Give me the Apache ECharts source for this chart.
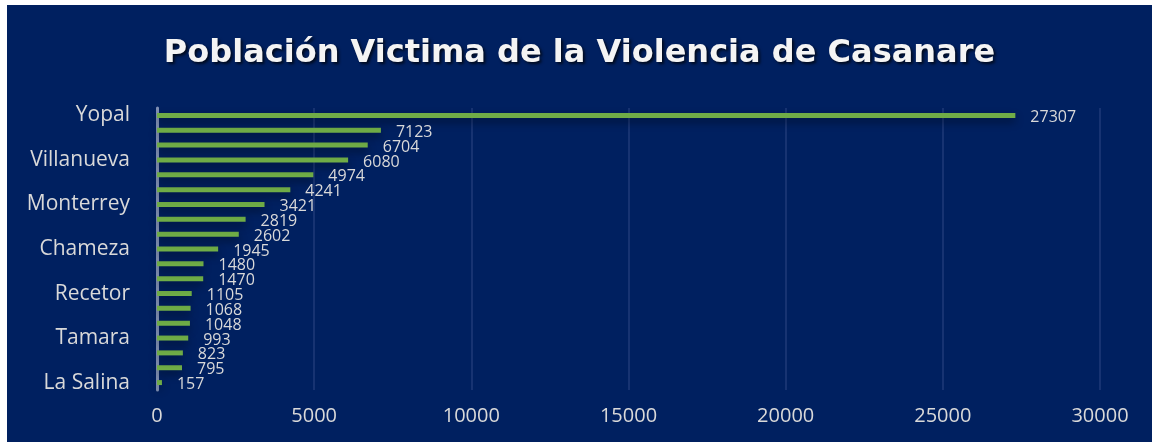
<!DOCTYPE html>
<html>
<head>
<meta charset="utf-8">
<script src="https://cdn.jsdelivr.net/npm/echarts@6/dist/echarts.min.js"></script>
<style>
  html, body { margin: 0; padding: 0; background: #ffffff; }
  #chart { position: absolute; left: 7px; top: 5px; width: 1145px; height: 437px; }
</style>
</head>
<body>
<div id="chart"></div>
<script>
// municipios, de arriba hacia abajo
const municipios = ['Yopal', 'Aguazul', 'Paz de Ariporo', 'Villanueva', 'Tauramena', 'Trinidad',
  'Monterrey', 'Hato Corozal', 'Orocué', 'Chameza', 'Pore', 'Maní', 'Recetor', 'Nunchía',
  'San Luis de Palenque', 'Tamara', 'Sabanalarga', 'Sácama', 'La Salina'];
const victimas = [27307, 7123, 6704, 6080, 4974, 4241, 3421, 2819, 2602, 1945, 1480, 1470,
  1105, 1068, 1048, 993, 823, 795, 157];
const ticksX = [0, 5000, 10000, 15000, 20000, 25000, 30000];

const chart = echarts.init(document.getElementById('chart'));

// el eje de categorias va de abajo hacia arriba, asi que se invierte
const cats = municipios.slice().reverse();
const vals = victimas.slice().reverse();

chart.setOption({
  backgroundColor: '#002060',
  animation: false,
  title: {
    text: 'Población Victima de la Violencia de Casanare',
    left: 'center',
    top: 28,
    textStyle: {
      color: '#f4f4f4',
      fontFamily: 'DejaVu Sans',
      fontWeight: 'bold',
      fontSize: 32,
      textShadowColor: 'rgba(0,0,0,0.7)',
      textShadowBlur: 3,
      textShadowOffsetX: 2,
      textShadowOffsetY: 2
    }
  },
  grid: { left: 150, right: 52, top: 103, height: 282 },
  xAxis: {
    type: 'value',
    min: ticksX[0],
    max: ticksX[ticksX.length - 1],
    interval: 5000,
    axisLine: { show: false },
    axisTick: { show: false },
    axisLabel: {
      color: '#d9d9d9', fontFamily: 'Open Sans', fontSize: 20, margin: 16,
      formatter: (v) => String(v)
    },
    splitLine: { lineStyle: { color: '#1f3a78', width: 1.5 } }
  },
  yAxis: {
    type: 'category',
    data: cats,
    axisTick: { show: false },
    axisLine: { lineStyle: { color: '#8090b4', width: 3 } },
    axisLabel: {
      color: '#d9d9d9', fontFamily: 'Open Sans', fontSize: 21, margin: 27,
      interval: (i) => (cats.length - 1 - i) % 3 === 0
    }
  },
  series: [{
    type: 'bar',
    data: vals,
    barWidth: 5,
    itemStyle: {
      color: '#70ad47',
      shadowColor: 'rgba(0,0,0,0.45)',
      shadowBlur: 8,
      shadowOffsetY: 4
    },
    label: {
      show: true,
      position: 'right',
      distance: 15,
      offset: [0, 2],
      color: '#d9d9d9',
      fontFamily: 'Open Sans',
      fontSize: 16
    }
  }]
});
</script>
</body>
</html>
